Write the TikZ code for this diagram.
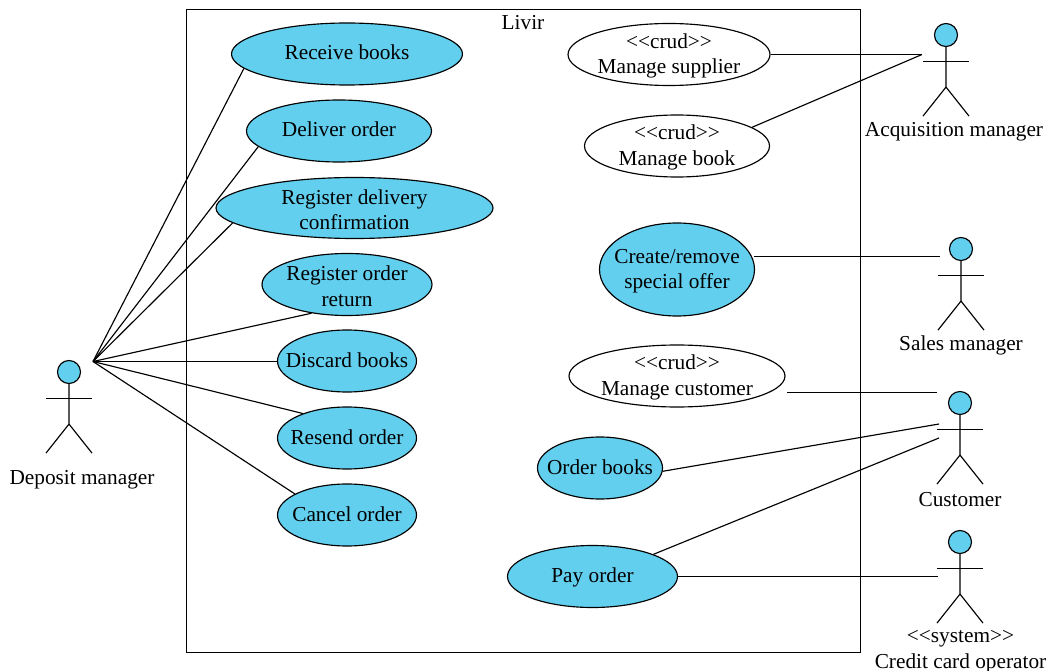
\documentclass[tikz,border=0pt]{standalone}
\usepackage{fontspec}
\setmainfont{Liberation Serif}
\usetikzlibrary{shapes.geometric}
\definecolor{ucblue}{HTML}{63CFEF}
\newcommand{\tl}{\rule{0pt}{18pt}}
\tikzset{
  line/.style={draw=black,line width=1.15pt},
  txt/.style={font=\fontsize{21.3}{25.5}\selectfont,align=center,inner sep=0pt,text=black},
  usecase/.style={txt,line,shape=ellipse,inner sep=-25pt,fill=ucblue},
  crud/.style={usecase,fill=white},
  oneline/.style={text height=16pt,text depth=4pt},
  head/.style={line,shape=circle,fill=ucblue,minimum size=23pt,inner sep=0pt},
}
\newcommand{\stickman}[3]{% name, x, y of head centre
  \node[head] (#1) at (#2,#3) {};
  \draw[line] (#1.south) -- ++(0,40) coordinate (#1hip) -- ++(-23,29) coordinate (#1lf);
  \draw[line] (#1hip) -- ++(23,29) coordinate (#1rf);
  \draw[line] ([shift={(-23,26.5)}]#1.center) coordinate (#1lh) -- ++(46,0) coordinate (#1rh);
}
\begin{document}
\begin{tikzpicture}[x=1pt,y=-1pt]
\useasboundingbox (0,0) rectangle (1050,671);
\node[line,minimum width=674pt,minimum height=643pt,inner sep=0pt] (sys) at (523.5,331) {};
\node[txt] (title) at (523,22.5) {Livir};

% use cases, left
\node[usecase,oneline,minimum width=231pt,minimum height=62pt] (receive) at (347,54) {Receive books};
\node[usecase,oneline,minimum width=185pt,minimum height=62pt] (deliver) at (339,131) {Deliver order};
\node[usecase,minimum width=277pt,minimum height=61pt] (confirm) at (354.5,208) {\tl Register delivery\\confirmation};
\node[usecase,minimum width=170pt,minimum height=62pt] (return) at (347,284.5) {\tl Register order\\return};
\node[usecase,oneline,minimum width=139pt,minimum height=62pt] (discard) at (347,361) {Discard books};
\node[usecase,oneline,minimum width=139pt,minimum height=62pt] (resend) at (347,438) {Resend order};
\node[usecase,oneline,minimum width=139pt,minimum height=62pt] (cancel) at (347,515) {Cancel order};

% use cases, right
\node[crud,minimum width=202pt,minimum height=62pt] (supplier) at (669,54.5) {\tl <{}<crud>{}>\\Manage supplier};
\node[crud,minimum width=185pt,minimum height=62pt] (book) at (677,146) {\tl <{}<crud>{}>\\Manage book};
\node[usecase,minimum width=155pt,minimum height=93pt] (offer) at (677,269.5) {\tl Create/remove\\special offer};
\node[crud,minimum width=216pt,minimum height=62pt] (mcust) at (677,376) {\tl <{}<crud>{}>\\Manage customer};
\node[usecase,oneline,minimum width=125pt,minimum height=62pt] (orderb) at (600,468) {Order books};
\node[usecase,oneline,minimum width=170pt,minimum height=62pt] (pay) at (592.5,576.5) {Pay order};

% actors
\stickman{dep}{69}{372}
\stickman{acq}{946}{35}
\stickman{sal}{961}{249}
\stickman{cus}{960}{403}
\stickman{cre}{960}{542}
\node[txt] (deplabel) at (82,479.5) {Deposit manager};
\node[txt] (acqlabel) at (954,131.5) {Acquisition manager};
\node[txt] (sallabel) at (961,345) {Sales manager};
\node[txt] (cuslabel) at (960,499.5) {Customer};
\node[txt] (crelabel) at (960.5,651.5) {<{}<system>{}>\\Credit card operator};

% free ends of connectors
\coordinate (depend) at (93,361.5);
\coordinate (acqend) at (922,54.5);
\coordinate (salend) at (940,256.5);
\coordinate (offerstart) at (754,256.5);
\coordinate (mcustA) at (787,392.5);
\coordinate (mcustB) at (937,392.5);
\coordinate (cusendA) at (939,424);
\coordinate (cusendB) at (939,438);
\coordinate (creend) at (938,576.5);

% connectors
\draw[line] (depend) -- (receive.188);
\draw[line] (depend) -- (deliver.191);
\draw[line] (depend) -- (confirm.187);
\draw[line] (depend) -- (return.219);
\draw[line] (depend) -- (discard.west |- depend);
\draw[line] (depend) -- (resend.151);
\draw[line] (depend) -- (cancel.158);
\draw[line] (supplier.east) -- (acqend);
\draw[line] (book.14) -- (acqend);
\draw[line] (offerstart) -- (salend);
\draw[line] (mcustA) -- (mcustB);
\draw[line] (orderb.-3) -- (cusendA);
\draw[line] (pay.20) -- (cusendB);
\draw[line] (pay.east) -- (creend);
\end{tikzpicture}
\end{document}
